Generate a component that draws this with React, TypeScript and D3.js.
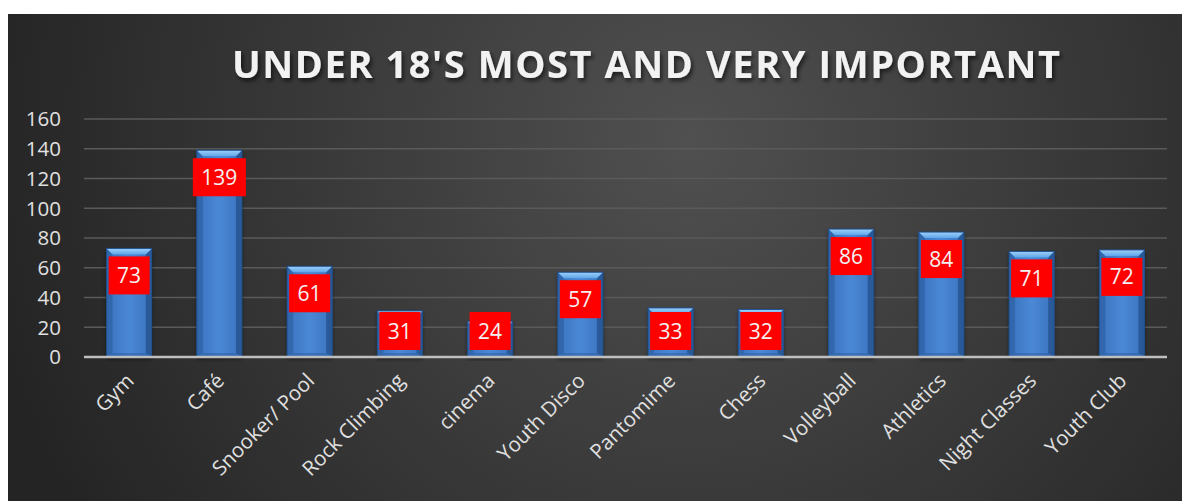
import React from "react";
import * as d3 from "d3";

const categories = ["Gym", "Café", "Snooker/ Pool", "Rock Climbing", "cinema", "Youth Disco", "Pantomime", "Chess", "Volleyball", "Athletics", "Night Classes", "Youth Club"];
const values = [73, 139, 61, 31, 24, 57, 33, 32, 86, 84, 71, 72];
const yTicks = [0, 20, 40, 60, 80, 100, 120, 140, 160];
const title = "UNDER 18'S MOST AND VERY IMPORTANT";

const W = 1182;
const H = 501;
const FONT = "'Open Sans', 'Noto Sans', sans-serif";

export default function App() {
  const left = 84, right = 1167, top = 119, bottom = 357;
  const x = d3.scaleBand<string>().domain(categories).range([left, right]).paddingInner(0.5).paddingOuter(0.25);
  const y = d3.scaleLinear().domain([0, 160]).range([bottom, top]);
  const bw = x.bandwidth();
  const bev = 6;
  const labelFont = 21;
  const boxH = 38;

  return (
    <svg width={W} height={H} style={{ position: "absolute", left: 0, top: 0 }}>
      <defs>
        <radialGradient id="bg" gradientUnits="userSpaceOnUse" cx={690} cy={140} r={720}>
          <stop offset="0" stopColor="#505050" />
          <stop offset="0.45" stopColor="#3c3c3c" />
          <stop offset="1" stopColor="#242424" />
        </radialGradient>
        <linearGradient id="barBody" x1="0" x2="1" y1="0" y2="0">
          <stop offset="0" stopColor="#3a72bd" />
          <stop offset="0.5" stopColor="#4a88d6" />
          <stop offset="1" stopColor="#3a72bd" />
        </linearGradient>
        <linearGradient id="barTop" x1="0" x2="0" y1="0" y2="1">
          <stop offset="0" stopColor="#9fd0f8" />
          <stop offset="1" stopColor="#5ea6ea" />
        </linearGradient>
        <filter id="tshadow" x="-10%" y="-30%" width="120%" height="160%">
          <feDropShadow dx="2" dy="3" stdDeviation="2" floodColor="#000" floodOpacity="0.6" />
        </filter>
        <filter id="bshadow" x="-20%" y="-5%" width="140%" height="115%">
          <feDropShadow dx="0" dy="2" stdDeviation="2" floodColor="#000" floodOpacity="0.5" />
        </filter>
      </defs>
      <rect x={8} y={14} width={W - 8} height={H - 14} fill="url(#bg)" />
      <text
        x={232}
        y={78}
        fontFamily={FONT}
        fontWeight={700}
        fontSize={38}
        fill="#f2f2f2"
        textLength={828}
        lengthAdjust="spacing"
        filter="url(#tshadow)"
      >
        {title}
      </text>
      {yTicks.map((t) => (
        <g key={t}>
          {t !== 0 && (
            <line x1={left} x2={right} y1={y(t)} y2={y(t)} stroke="#5a5a5a" strokeWidth={1.5} />
          )}
          <text x={61} y={y(t)} dy="0.36em" textAnchor="end" fontFamily={FONT} fontSize={20.5} fill="#e0e0e0">
            {t}
          </text>
        </g>
      ))}
      {categories.map((c, i) => {
        const v = values[i];
        const x0 = x(c)!;
        const y0 = y(v);
        const h = bottom - y0;
        const cx = x0 + bw / 2;
        const label = String(v);
        const boxW = label.length * 0.572 * labelFont + 17;
        const boxY = Math.min(y0 + 8, bottom - 7 - boxH);
        return (
          <g key={c}>
            <g filter="url(#bshadow)">
              <rect x={x0} y={y0} width={bw} height={h} fill="url(#barBody)" />
            </g>
            <polygon
              points={`${x0},${y0} ${x0 + bev},${y0 + bev} ${x0 + bev},${bottom - 4} ${x0},${bottom}`}
              fill="#2f63a8"
              opacity={0.8}
            />
            <polygon
              points={`${x0 + bw},${y0} ${x0 + bw - bev},${y0 + bev} ${x0 + bw - bev},${bottom - 4} ${x0 + bw},${bottom}`}
              fill="#24528f"
              opacity={0.8}
            />
            <polygon
              points={`${x0},${bottom} ${x0 + bev},${bottom - 4} ${x0 + bw - bev},${bottom - 4} ${x0 + bw},${bottom}`}
              fill="#2f63a8"
              opacity={0.6}
            />
            <polygon
              points={`${x0},${y0} ${x0 + bw},${y0} ${x0 + bw - bev},${y0 + bev} ${x0 + bev},${y0 + bev}`}
              fill="url(#barTop)"
            />
            <rect x={x0} y={y0} width={bw} height={h} fill="none" stroke="#1f4f8c" strokeWidth={1} />
            <rect x={cx - boxW / 2} y={boxY} width={boxW} height={boxH} fill="#ff0000" />
            <text
              x={cx}
              y={boxY + boxH / 2}
              dy="0.36em"
              textAnchor="middle"
              fontFamily={FONT}
              fontSize={labelFont}
              fill="#f2f2f2"
            >
              {label}
            </text>
            <text
              transform={`translate(${cx + 6},${382}) rotate(-45)`}
              textAnchor="end"
              fontFamily={FONT}
              fontSize={20.5}
              fill="#e0e0e0"
            >
              {c}
            </text>
          </g>
        );
      })}
      <line x1={left} x2={right} y1={bottom} y2={bottom} stroke="#bfbfbf" strokeWidth={2.5} />
    </svg>
  );
}
